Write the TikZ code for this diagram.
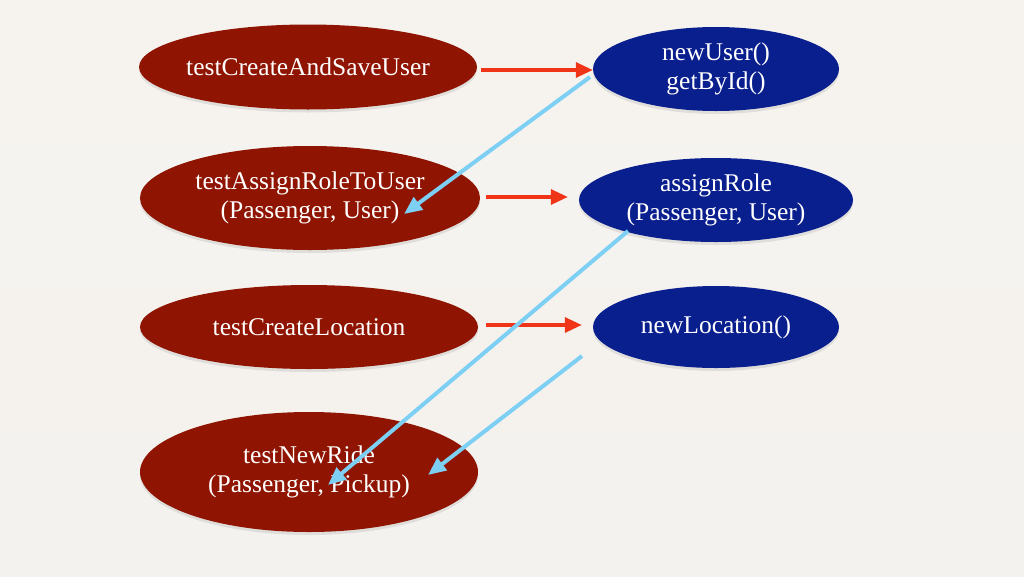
\documentclass[tikz,border=0pt]{standalone}
\usepackage{fontspec}
\setmainfont{Liberation Serif}
\usetikzlibrary{arrows.meta,shapes.geometric,shadows}
\definecolor{bgtop}{HTML}{F6F3EF}
\definecolor{bgmid}{HTML}{E3E0DA}
\definecolor{bgbot}{HTML}{F4F2EE}
\definecolor{redfill}{HTML}{8F1502}
\definecolor{bluefill}{HTML}{0A1F8E}
\definecolor{redarrow}{HTML}{EF3418}
\definecolor{bluearrow}{HTML}{7DCFF4}
\tikzset{
  oval/.style={ellipse, inner xsep=-40pt, inner ysep=-10pt, text=white, align=center,
    font=\fontsize{25.5}{28.5}\selectfont,
    drop shadow={opacity=0.18, shadow xshift=0pt, shadow yshift=-3pt}},
  testnode/.style={oval, fill=redfill},
  implnode/.style={oval, fill=bluefill},
  callarrow/.style={draw=redarrow, line width=3.2pt, -{Triangle[length=17pt,width=15pt]}},
  usearrow/.style={draw=bluearrow, line width=4pt, -{Triangle[length=18pt,width=15pt]}}
}
\begin{document}
\begin{tikzpicture}[x=1pt,y=-1pt]
\useasboundingbox (0,0) rectangle (1024,576);
\shade[top color=bgtop, middle color=bgmid, bottom color=bgbot] (0,0) rectangle (1024,576);

\node[testnode, minimum width=338pt, minimum height=85pt] (r1) at (308,67) {testCreateAndSaveUser};
\node[testnode, minimum width=340pt, minimum height=104pt] (r2) at (310,198) {testAssignRoleToUser\\(Passenger, User)};
\node[testnode, minimum width=338pt, minimum height=84pt] (r3) at (309,327) {testCreateLocation};
\node[testnode, minimum width=338pt, minimum height=120pt] (r4) at (309,472) {testNewRide\\(Passenger, Pickup)};

\node[implnode, minimum width=246pt, minimum height=84pt] (b1) at (716,69) {newUser()\\getById()};
\node[implnode, minimum width=274pt, minimum height=84pt] (b2) at (716,200) {assignRole\\(Passenger, User)};
\node[implnode, minimum width=246pt, minimum height=82pt] (b3) at (716,327) {newLocation()};

\coordinate (a1) at ([yshift=-3pt]r1.east);
\coordinate (a2) at ([yshift=1pt]r2.east);
\coordinate (a3) at ([yshift=2pt]r3.east);
\draw[callarrow, shorten <=4pt] (a1) -- (a1 -| b1.west);
\draw[callarrow, shorten <=6pt, shorten >=11pt] (a2) -- (a2 -| b2.west);
\draw[callarrow, shorten <=8pt, shorten >=11pt] (a3) -- (a3 -| b3.west);

\coordinate (s1) at ([shift={(-126,8)}]b1.center);
\coordinate (e1) at ([shift={(94,16)}]r2.center);
\coordinate (s2) at ([shift={(-88,31)}]b2.center);
\coordinate (e2) at ([shift={(19,13)}]r4.center);
\coordinate (s3) at ([shift={(-134,29)}]b3.center);
\coordinate (e3) at ([shift={(119,3)}]r4.center);

\draw[usearrow] (s1) -- (e1);
\draw[usearrow] (s2) -- (e2);
\draw[usearrow] (s3) -- (e3);
\end{tikzpicture}
\end{document}
